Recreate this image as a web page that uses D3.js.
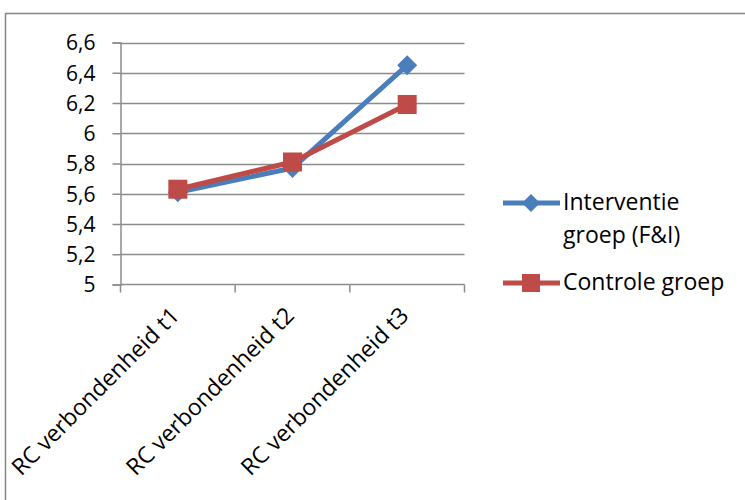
<!DOCTYPE html>
<html>
<head>
<meta charset="utf-8">
<script src="https://cdn.jsdelivr.net/npm/d3@7"></script>
<style>
  html, body { margin: 0; padding: 0; background: #fff; }
  text { font-family: "Open Sans", "Liberation Sans", sans-serif; fill: #000; }
</style>
</head>
<body>
<svg id="chart" width="745" height="500"></svg>
<script>
// Categories on the x axis
const categories = ["RC verbondenheid t1", "RC verbondenheid t2", "RC verbondenheid t3"];
// Series values
const interventie = [5.61, 5.77, 6.45];
const controle = [5.63, 5.81, 6.19];
const seriesNames = ["Interventie groep (F&I)", "Controle groep"];
// Y tick values and their labels (Dutch decimal comma)
const yTicks = [5, 5.2, 5.4, 5.6, 5.8, 6, 6.2, 6.4, 6.6];
const yTickLabels = ["5", "5,2", "5,4", "5,6", "5,8", "6", "6,2", "6,4", "6,6"];

const svg = d3.select("#chart");
const colors = { blue: "#4A7EBB", red: "#BE4B48" };

// Outer frame
svg.append("rect")
  .attr("x", 5.5).attr("y", 13.5)
  .attr("width", 760).attr("height", 520)
  .attr("fill", "none").attr("stroke", "#868686").attr("stroke-width", 1.5);

const plot = { left: 120.5, right: 464.5, top: 42.5, bottom: 284.5 };

const x = d3.scaleBand().domain(categories).range([plot.left, plot.right]);
const y = d3.scaleLinear().domain([5, 6.6]).range([plot.bottom, plot.top]);

// Horizontal gridlines
svg.append("g")
  .selectAll("line")
  .data(yTicks.slice(1))
  .join("line")
  .attr("x1", plot.left).attr("x2", plot.right)
  .attr("y1", d => Math.round(y(d)) + 0.5).attr("y2", d => Math.round(y(d)) + 0.5)
  .attr("stroke", "#8c8c8c").attr("stroke-width", 1.5);

// Y axis
const yAxis = d3.axisLeft(y)
  .tickValues(yTicks)
  .tickFormat((d, i) => yTickLabels[i])
  .tickSize(8).tickPadding(17);
const gy = svg.append("g").attr("transform", `translate(${plot.left},0)`).call(yAxis);
gy.select(".domain").attr("stroke", "#8c8c8c").attr("stroke-width", 1.5);
gy.selectAll(".tick line").attr("stroke", "#8c8c8c").attr("stroke-width", 1.5);
gy.selectAll(".tick text").style("font-size", "21px").attr("dy", "0.35em");

// X axis with ticks at band boundaries
const gx = svg.append("g").attr("transform", `translate(0,${plot.bottom})`);
gx.append("line")
  .attr("x1", plot.left).attr("x2", plot.right)
  .attr("stroke", "#8c8c8c").attr("stroke-width", 1.5);
const bounds = categories.map(c => x(c)).concat([x(categories[categories.length - 1]) + x.bandwidth()]);
gx.selectAll("line.tk")
  .data(bounds)
  .join("line").attr("class", "tk")
  .attr("x1", d => d).attr("x2", d => d)
  .attr("y1", 0).attr("y2", 8)
  .attr("stroke", "#8c8c8c").attr("stroke-width", 1.5);
// Rotated category labels, right end anchored just below each category
gx.selectAll("text")
  .data(categories)
  .join("text")
  .attr("transform", d => `translate(${x(d) + x.bandwidth() / 2 + 3},${32.5}) rotate(-45)`)
  .attr("text-anchor", "end")
  .style("font-size", "23px")
  .text(d => d);

const cx = d => x(d) + x.bandwidth() / 2;
const line = d3.line().x(d => cx(d.c)).y(d => y(d.v));

const blueData = categories.map((c, i) => ({ c, v: interventie[i] }));
const redData = categories.map((c, i) => ({ c, v: controle[i] }));

const diamond = s => `M0,${-s}L${s},0L0,${s}L${-s},0Z`;

// Interventie series: line with diamond markers
svg.append("path").datum(blueData)
  .attr("d", line).attr("fill", "none")
  .attr("stroke", colors.blue).attr("stroke-width", 5).attr("stroke-linejoin", "round");
svg.selectAll("path.dm").data(blueData).join("path").attr("class", "dm")
  .attr("transform", d => `translate(${cx(d.c)},${y(d.v)})`)
  .attr("d", diamond(10)).attr("fill", colors.blue);

// Controle series: line with square markers
svg.append("path").datum(redData)
  .attr("d", line).attr("fill", "none")
  .attr("stroke", colors.red).attr("stroke-width", 5).attr("stroke-linejoin", "round");
svg.selectAll("rect.sq").data(redData).join("rect").attr("class", "sq")
  .attr("x", d => cx(d.c) - 9.5).attr("y", d => y(d.v) - 9.5)
  .attr("width", 19).attr("height", 19).attr("fill", colors.red);

// Legend
const legend = svg.append("g");
const lx0 = 503, lx1 = 560, lmid = 531;
const leg1 = legend.append("g").attr("transform", "translate(0,203)");
leg1.append("line").attr("x1", lx0).attr("x2", lx1)
  .attr("stroke", colors.blue).attr("stroke-width", 5);
leg1.append("path").attr("transform", `translate(${lmid},0)`).attr("d", diamond(9)).attr("fill", colors.blue);
const t1 = leg1.append("text").attr("x", 563).attr("y", 7).style("font-size", "23px");
t1.append("tspan").attr("x", 563).text("Interventie");
t1.append("tspan").attr("x", 563).attr("dy", 33).text("groep (F&I)");

const leg2 = legend.append("g").attr("transform", "translate(0,283)");
leg2.append("line").attr("x1", lx0).attr("x2", lx1)
  .attr("stroke", colors.red).attr("stroke-width", 5);
leg2.append("rect").attr("x", lmid - 9).attr("y", -9).attr("width", 18).attr("height", 18).attr("fill", colors.red);
leg2.append("text").attr("x", 563).attr("y", 7).style("font-size", "23px").text(seriesNames[1]);
</script>
</body>
</html>
